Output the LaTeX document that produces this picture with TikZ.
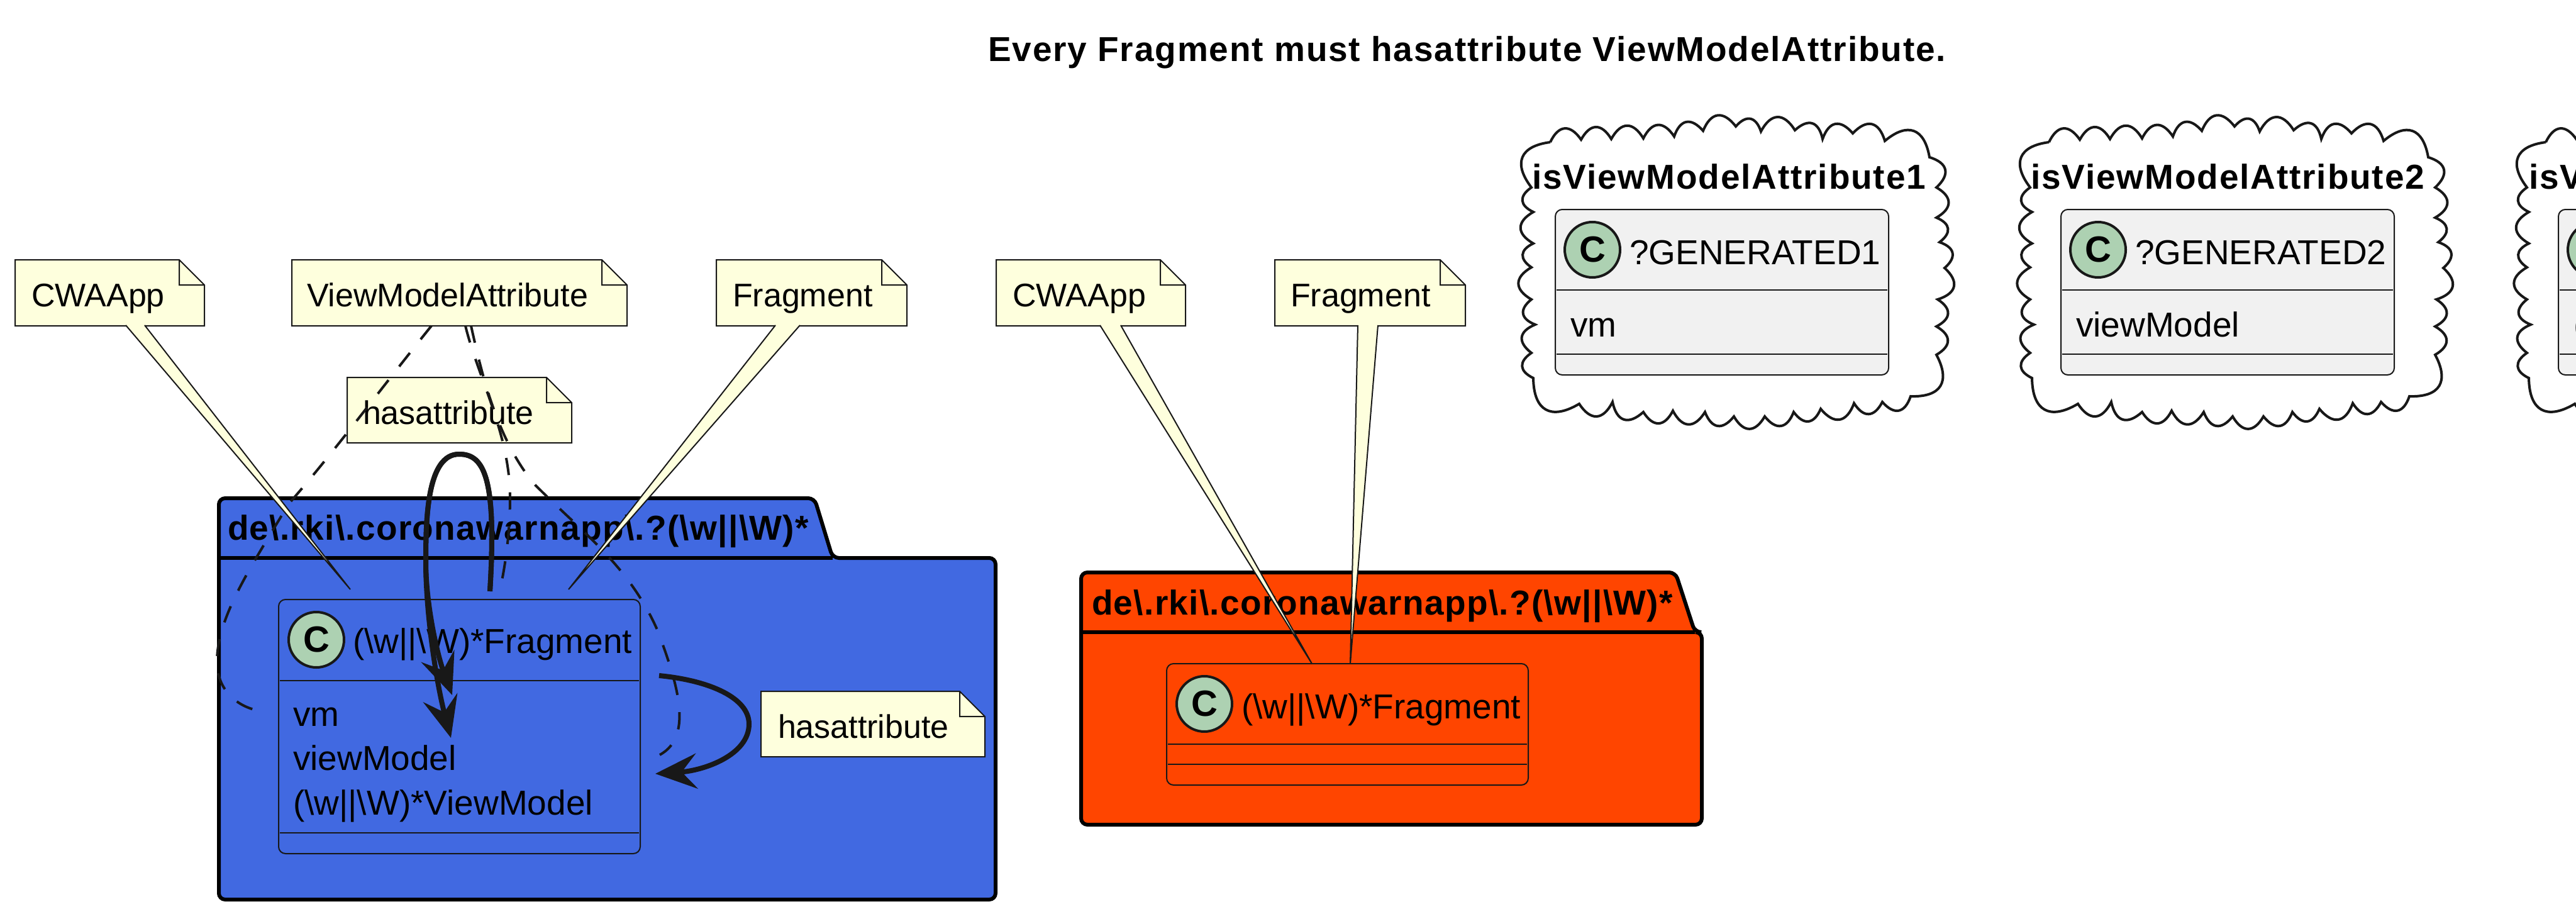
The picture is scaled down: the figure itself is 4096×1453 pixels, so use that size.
\documentclass[tikz,border=0pt]{standalone}
\usepackage{fontspec}
\setmainfont{Liberation Sans}
\newfontfamily\titlefont[LetterSpace=3.4]{Liberation Sans Bold}
\newfontfamily\packfont[LetterSpace=2.4]{Liberation Sans Bold}
\usetikzlibrary{arrows.meta}
\definecolor{notefill}{HTML}{FEFFDD}
\definecolor{linegray}{HTML}{181818}
\definecolor{classfill}{HTML}{F1F1F1}
\definecolor{circlefill}{HTML}{ADD1B2}
\definecolor{bluepack}{HTML}{4169E1}
\definecolor{orangepack}{HTML}{FF4500}
\newcommand{\cloudpath}{(2465,226) to (2514,222) to (2562,221) to (2613,220) to (2662,217) to (2708,208)
    to (2760,201) to (2800,209) to (2854,207) to (2898,221) to (2946,212) to (2997,224) to (3068,250)
    to (3079,298) to (3079,346) to (3084,385) to (3092,426) to (3081,476) to (3079,519) to (3079,564)
    to (3038,630) to (2993,639) to (2948,641) to (2895,650) to (2852,655) to (2806,662) to (2757,662)
    to (2711,655) to (2660,653) to (2613,655) to (2564,639) to (2511,642) to (2438,601) to (2435,561)
    to (2441,516) to (2435,476) to (2435,425) to (2438,387) to (2438,337) to (2435,298) to (2465,226)}
\newcommand{\notepath}[4]{(#1,#2) -- (#3-40,#2) -- (#3,#2+40) -- (#3,#4) -- (#1,#4) -- cycle
    (#3,#2+40) -- (#3-40,#2+40) -- (#3-40,#2)}
\begin{document}
\begin{tikzpicture}[
            x=1pt, y=-1pt,
            every node/.style={inner sep=0pt, outer sep=0pt, font=\fontsize{55}{66}\selectfont},
            label text/.style={anchor=base west},
            note text/.style={anchor=base west, font=\fontsize{52}{62}\selectfont},
            title text/.style={anchor=base west, font=\fontsize{55}{66}\selectfont\titlefont},
            pack text/.style={anchor=base west, font=\fontsize{55}{66}\selectfont\packfont},
            note/.style={draw=linegray, line width=2pt, fill=notefill},
            tail/.style={draw=linegray, line width=2pt, fill=notefill},
            package/.style={draw=black, line width=6pt, rounded corners=10pt},
            classbox/.style={draw=linegray, line width=2pt, rounded corners=11pt},
            rule/.style={draw=linegray, line width=2pt},
            badge/.style={circle, draw=linegray, line width=4pt, fill=circlefill, minimum size=88pt, font=\fontsize{58}{66}\selectfont\bfseries},
            cloudline/.style={draw=linegray, line width=4pt, fill=white, every to/.style={bend left=60, looseness=1.6}},
            link/.style={draw=linegray, line width=4pt, dash pattern=on 27.5pt off 27.5pt},
            selfarrow/.style={draw=linegray, line width=8pt, -{Stealth[length=66pt, width=56pt, inset=24pt]}}
            ]
            \useasboundingbox (0,0) rectangle (4096,1453);
            \clip (0,0) rectangle (4096,1453);

            \node[title text] (title) at (1571,98) {Every Fragment must hasattribute ViewModelAttribute.};

            \draw[package, fill=bluepack] (348,887) -- (348,792) -- (1295,792) -- (1324,887) -- (1583,887) -- (1583,1430) -- (348,1430) -- cycle;
            \draw[package, sharp corners] (348,887) -- (1324,887);
            \node[pack text] (pkgblue) at (362,858) {de\textbackslash.rki\textbackslash.coronawarnapp\textbackslash.?(\textbackslash w||\textbackslash W)*};
            \draw[package, fill=orangepack] (1719,1005) -- (1719,910) -- (2664,910) -- (2695,1005) -- (2706,1005) -- (2706,1311) -- (1719,1311) -- cycle;
            \draw[package, sharp corners] (1719,1005) -- (2695,1005);
            \node[pack text] (pkgorange) at (1736,977) {de\textbackslash.rki\textbackslash.coronawarnapp\textbackslash.?(\textbackslash w||\textbackslash W)*};

            \draw[classbox] (443,953) rectangle (1018,1357);
            \draw[rule] (445,1082) -- (1016,1082);
            \draw[rule] (445,1324) -- (1016,1324);
            \node[badge] (badgeblue) at (503,1017) {C};
            \node[label text] (fragblue) at (561,1038) {(\textbackslash w||\textbackslash W)*Fragment};
            \node[label text] (vmblue) at (466,1154) {vm};
            \node[label text] (viewmodelblue) at (466,1224) {viewModel};
            \node[label text] (anyblue) at (466,1295) {(\textbackslash w||\textbackslash W)*ViewModel};

            \draw[classbox] (1855,1055) rectangle (2430,1248);
            \draw[rule] (1857,1183) -- (2428,1183);
            \draw[rule] (1857,1215) -- (2428,1215);
            \node[badge] (badgeorange) at (1915,1119) {C};
            \node[label text] (fragorange) at (1974,1142) {(\textbackslash w||\textbackslash W)*Fragment};

            \foreach \cx/\bx/\cnum/\member in {0/0/1/vm,793/804/2/viewModel}
            {
                \begin{scope}[xshift=\cx pt]
                    \draw[cloudline] \cloudpath;
                    \node[title text] (cloud\cnum) at (2436,300) {isViewModelAttribute\cnum};
                \end{scope}
                \begin{scope}[xshift=\bx pt]
                    \draw[classbox, fill=classfill] (2473,333) rectangle (3003,596);
                    \draw[rule] (2475,461) -- (3001,461);
                    \draw[rule] (2475,563) -- (3001,563);
                    \node[badge] (badge\cnum) at (2532,397) {C};
                    \node[label text] (gen\cnum) at (2591,420) {?GENERATED\cnum};
                    \node[label text] (member\cnum) at (2497,535) {\member};
                \end{scope}
            }
            \begin{scope}[xshift=1583pt]
                \draw[cloudline] \cloudpath;
                \node[title text] (cloud3) at (2438,300) {isV};
            \end{scope}
            \begin{scope}[xshift=1595pt]
                \draw[classbox, fill=classfill] (2473,333) rectangle (3003,596);
                \draw[rule] (2475,461) -- (3001,461);
                \draw[rule] (2475,563) -- (3001,563);
                \node[badge] (badge3) at (2532,397) {C};
                \node[label text] (member3) at (2497,535) {(};
            \end{scope}

            \draw[note] \notepath{24}{413}{325}{518};
            \node[note text] (cwablue) at (50,487) {CWAApp};
            \draw[note] \notepath{464}{413}{997}{518};
            \node[note text] (vma) at (488,487) {ViewModelAttribute};
            \draw[note] \notepath{1139}{413}{1442}{518};
            \node[note text] (fragnoteblue) at (1165,487) {Fragment};
            \draw[note] \notepath{552}{600}{909}{704};
            \node[note text] (hasnotetop) at (577,674) {hasattribute};
            \draw[note] \notepath{1210}{1099}{1566}{1203};
            \node[note text] (hasnoteright) at (1237,1173) {hasattribute};
            \draw[note] \notepath{1584}{413}{1885}{518};
            \node[note text] (cwaorange) at (1610,487) {CWAApp};
            \draw[note] \notepath{2027}{413}{2330}{518};
            \node[note text] (fragnoteorange) at (2052,487) {Fragment};

            \coordinate (tipa) at (557,937);
            \coordinate (tipb) at (904,937);
            \coordinate (tipc) at (2086,1055);
            \coordinate (tipd) at (2147,1055);
            \draw[tail] (200,517) -- (tipa) -- (230,517);
            \draw[tail] (1233,517) -- (tipb) -- (1272,517);
            \draw[tail] (1749,517) -- (tipc) -- (1782,517);
            \draw[tail] (2159,517) -- (tipd) -- (2191,517);

            \coordinate (linka) at (686,518);
            \coordinate (linkb) at (740,518);
            \coordinate (linkc) at (749,518);
            \coordinate (enda) at (418,1131);
            \coordinate (endb) at (797,928);
            \coordinate (endc) at (1049,1200);
            \draw[link] (linka) .. controls (600,625) and (530,720) .. (459,801) .. controls (400,900) and (345,980) .. (345,1052) .. controls (345,1095) and (375,1125) .. (enda);
            \draw[link] (linkb) .. controls (760,600) and (811,690) .. (811,791) .. controls (811,840) and (805,890) .. (endb);
            \draw[link] (linkc) .. controls (765,590) and (790,700) .. (851,771) .. controls (930,850) and (1000,900) .. (1045,1001) .. controls (1075,1080) and (1105,1170) .. (endc);

            \coordinate (loopstart) at (779,940);
            \coordinate (loopendone) at (719,1105);
            \coordinate (loopendtwo) at (717,1173);
            \coordinate (rightstart) at (1048,1074);
            \coordinate (rightend) at (1042,1230);
            \draw[selfarrow] (loopstart) .. controls (790,760) and (770,722) .. (730,722) .. controls (680,722) and (677,820) .. (677,892) .. controls (677,960) and (695,1040) .. (loopendone);
            \draw[selfarrow] (loopstart) .. controls (790,760) and (770,722) .. (730,722) .. controls (680,722) and (677,820) .. (677,892) .. controls (677,980) and (695,1090) .. (loopendtwo);
            \draw[selfarrow] (rightstart) .. controls (1130,1082) and (1191,1110) .. (1191,1151) .. controls (1191,1200) and (1120,1225) .. (rightend);
\end{tikzpicture}
\end{document}
